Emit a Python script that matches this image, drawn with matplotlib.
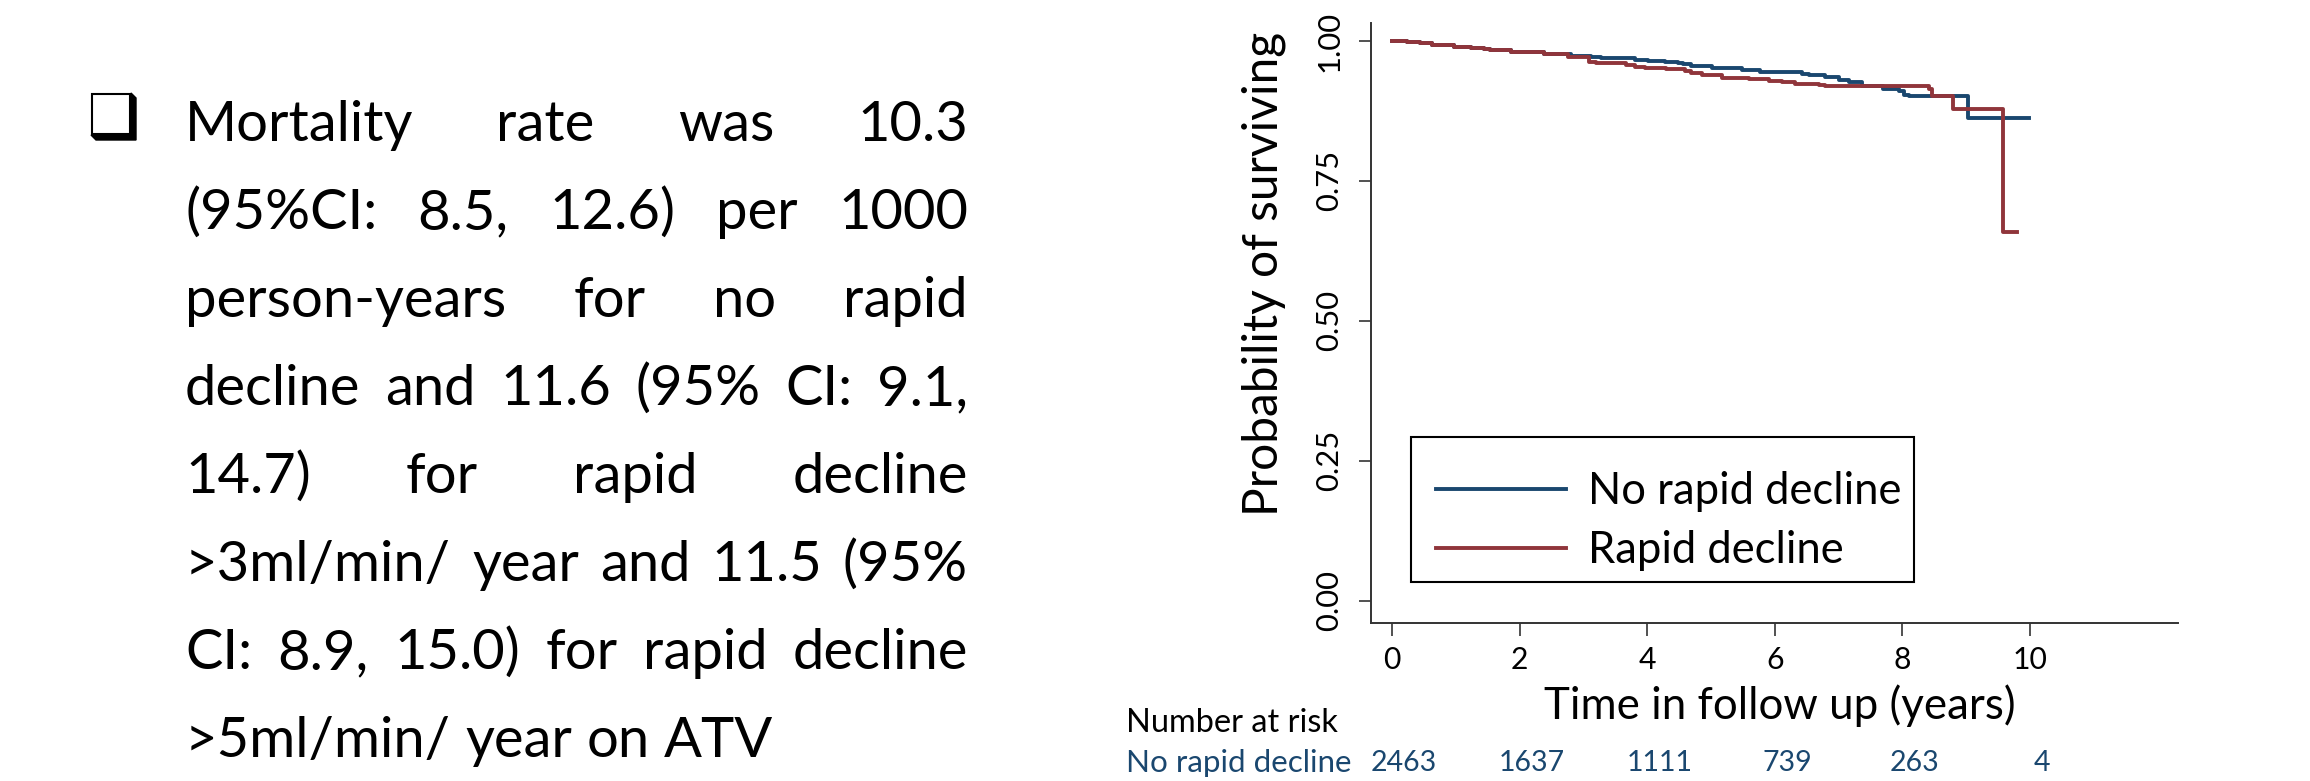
import matplotlib
matplotlib.use('Agg')
import matplotlib.pyplot as plt
from matplotlib.patches import Rectangle, Polygon
from matplotlib.font_manager import FontProperties
from matplotlib.transforms import blended_transform_factory, offset_copy

W, H = 2310, 781
FONT = ['Lato', 'DejaVu Sans']
NAVY = '#1a476f'
MAROON = '#90353b'

# slide text next to the graph
bullet_lines = [
    "Mortality rate was 10.3",
    "(95%CI: 8.5, 12.6) per 1000",
    "person-years for no rapid",
    "decline and 11.6 (95% CI: 9.1,",
    "14.7) for rapid decline",
    ">3ml/min/ year and 11.5 (95%",
    "CI: 8.9, 15.0) for rapid decline",
    ">5ml/min/ year on ATV",
]

# Kaplan-Meier estimates
t_no_rapid = [0, 0.23, 0.44, 0.62, 0.97, 1.23, 1.44, 1.54, 1.86, 2.07, 2.38, 2.80,
              3.12, 3.28, 3.80, 4.01, 4.27, 4.48, 4.56, 4.69, 5.01, 5.48, 5.77, 6.11,
              6.43, 6.53, 6.79, 7.00, 7.16, 7.37, 7.69, 7.95, 8.03, 8.11, 9.02, 9.98]
s_no_rapid = [1.0, 0.999, 0.996, 0.993, 0.990, 0.987, 0.985, 0.983, 0.981, 0.980, 0.977, 0.974,
              0.972, 0.969, 0.966, 0.964, 0.963, 0.961, 0.958, 0.955, 0.951, 0.948, 0.945, 0.944,
              0.941, 0.939, 0.935, 0.930, 0.926, 0.920, 0.915, 0.910, 0.904, 0.902, 0.862, 0.862]

t_rapid = [0, 0.23, 0.44, 0.62, 0.97, 1.23, 1.44, 1.54, 1.86, 2.07, 2.38, 2.75,
           3.09, 3.20, 3.67, 3.80, 3.96, 4.30, 4.59, 4.69, 4.85, 5.17, 5.59, 5.90,
           6.11, 6.32, 6.69, 6.79, 8.42, 8.46, 8.79, 9.57, 9.80]
s_rapid = [1.0, 0.999, 0.996, 0.993, 0.990, 0.987, 0.985, 0.983, 0.981, 0.980, 0.976, 0.971,
           0.963, 0.961, 0.957, 0.954, 0.951, 0.950, 0.946, 0.942, 0.939, 0.933, 0.932, 0.929,
           0.927, 0.924, 0.921, 0.920, 0.914, 0.902, 0.878, 0.658, 0.658]

risk_times = [0, 2, 4, 6, 8, 10]
risk_no_rapid = [2463, 1637, 1111, 739, 263, 4]

x_ticks = [0, 2, 4, 6, 8, 10]
y_ticks = [0, 0.25, 0.5, 0.75, 1.0]
y_ticklabels = ['0.00', '0.25', '0.50', '0.75', '1.00']


def fx(px):
    return px / W


def fy(py):
    return 1 - py / H


fig = plt.figure(figsize=(W / 100, H / 100), dpi=100)
renderer = fig.canvas.get_renderer()


def text_extent(s, size):
    t = fig.text(0, 0, s, fontsize=size, family=FONT)
    bb = t.get_window_extent(renderer)
    t.remove()
    return bb


def text_width(s, size):
    return text_extent(s, size).width


def fit(s, width_px, size=20):
    return size * width_px / text_width(s, size)


# ---- left: bullet + justified paragraph ----
fig.add_artist(Polygon([[fx(131), fy(93)], [fx(136), fy(98)], [fx(136), fy(140)],
                        [fx(96), fy(140)], [fx(91), fy(135)], [fx(131), fy(135)]],
                       closed=True, color='black', transform=fig.transFigure))
fig.add_artist(Rectangle((fx(92), fy(134)), 38 / W, 40 / H, fill=False, lw=1.5,
                         ec='black', transform=fig.transFigure))

body_size = fit(bullet_lines[-1], 589)
space = text_width('a a', body_size) - text_width('aa', body_size)
x0, x1 = 185, 968
for i, line in enumerate(bullet_lines):
    y = 141 + i * 88
    words = line.split()
    widths = [text_width(w, body_size) for w in words]
    if i < len(bullet_lines) - 1:
        gap = max((x1 - x0 - sum(widths)) / (len(words) - 1), 0.5 * space)
    else:
        gap = space
    x = x0
    for w, wd in zip(words, widths):
        fig.text(fx(x), fy(y), w, fontsize=body_size, family=FONT, va='baseline')
        x += wd + gap

# ---- right: survival curves ----
ax = fig.add_axes([fx(1371), fy(623), fx(2178) - fx(1371), (623 - 22.5) / H])
ax.step(t_no_rapid, s_no_rapid, where='post', color=NAVY, lw=2.8, label='No rapid decline')
ax.step(t_rapid, s_rapid, where='post', color=MAROON, lw=2.8, label='Rapid decline')
ax.set_xlim(-0.332, 12.32)
ax.set_ylim(-0.04, 1.033)

for side in ['top', 'right']:
    ax.spines[side].set_visible(False)
for side in ['left', 'bottom']:
    ax.spines[side].set_color('#333333')
    ax.spines[side].set_linewidth(1.4)

tick_size = fit('10', 35)
ytick_size = fit('1.00', 61)
ax.set_xticks(x_ticks)
ax.set_xticklabels([str(v) for v in x_ticks], fontsize=tick_size, family=FONT)
ax.set_yticks(y_ticks)
ax.set_yticklabels(y_ticklabels, rotation=90, va='center', fontsize=ytick_size, family=FONT)
ax.tick_params(axis='both', length=9, width=1.2, color='#333333', direction='out')
ax.tick_params(axis='x', pad=7.5)
ax.tick_params(axis='y', pad=11)

title_size = fit('Time in follow up (years)', 472)
fig.text(fx(1780), fy(719), 'Time in follow up (years)', ha='center', va='baseline',
         fontsize=title_size, family=FONT)
ylab_size = fit('Probability of surviving', 486)
fig.text(fx(1264), fy(274), 'Probability of surviving', rotation=90, ha='center',
         va='center', fontsize=ylab_size, family=FONT)

# legend: entries placed by the legend, frame drawn as a box around them
leg_size = fit('No rapid decline', 314)
em = leg_size * 100 / 72
row_h = text_extent('No rapid decline', leg_size).height
leg = ax.legend(loc='center left', bbox_to_anchor=(fx(1436), fy(521)),
                bbox_transform=fig.transFigure,
                prop=FontProperties(family=FONT, size=leg_size),
                frameon=False, borderaxespad=0, borderpad=0,
                handlelength=130 / em, handletextpad=22 / em,
                labelspacing=(59 - row_h) / em)
fig.add_artist(Rectangle((fx(1411), fy(582)), (1914 - 1411) / W, (582 - 437) / H,
                         fill=False, lw=1.5, ec='black', transform=fig.transFigure))

# ---- number at risk table ----
risk_size = fit('Number at risk', 212)
row_size = fit('No rapid decline', 226)
num_size = fit('2463', 66)
fig.text(fx(1126), fy(723), 'Number at risk', va='center', fontsize=risk_size, family=FONT)
fig.text(fx(1126), fy(763), 'No rapid decline', va='center', color=NAVY,
         fontsize=row_size, family=FONT)
trans = offset_copy(blended_transform_factory(ax.transData, fig.transFigure),
                    fig=fig, x=12, y=0, units='dots')
for t, n in zip(risk_times, risk_no_rapid):
    ax.text(t, fy(763), str(n), transform=trans, ha='center', va='center', color=NAVY,
            fontsize=num_size, family=FONT, clip_on=False)

fig.savefig('out.png', dpi=100)
